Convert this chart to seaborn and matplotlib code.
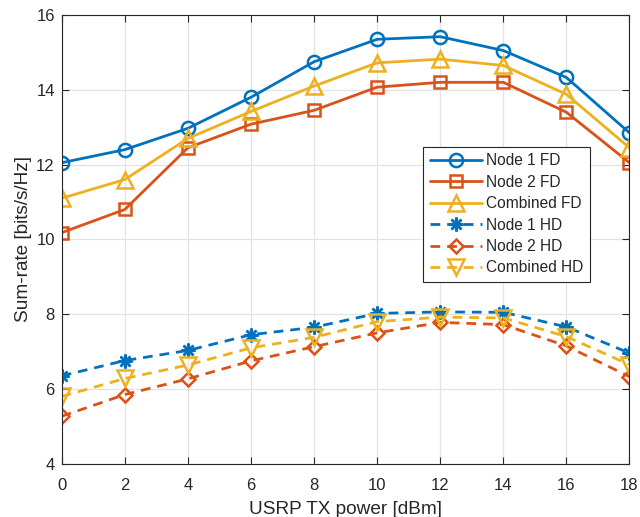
import matplotlib
matplotlib.use("Agg")
import matplotlib.pyplot as plt
import seaborn as sns
import pandas as pd

x = [0, 2, 4, 6, 8, 10, 12, 14, 16, 18]
node1_fd = [12.05, 12.4, 12.97, 13.8, 14.75, 15.35, 15.42, 15.05, 14.33, 12.85]
node2_fd = [10.18, 10.8, 12.45, 13.08, 13.45, 14.07, 14.2, 14.2, 13.4, 12.05]
comb_fd = [11.1, 11.6, 12.7, 13.42, 14.1, 14.72, 14.82, 14.65, 13.88, 12.45]
node1_hd = [6.35, 6.76, 7.03, 7.45, 7.65, 8.02, 8.06, 8.05, 7.66, 6.96]
node2_hd = [5.27, 5.85, 6.27, 6.75, 7.13, 7.5, 7.78, 7.72, 7.15, 6.33]
comb_hd = [5.8, 6.28, 6.64, 7.1, 7.38, 7.8, 7.92, 7.9, 7.4, 6.65]

labels = ["Node 1 FD", "Node 2 FD", "Combined FD", "Node 1 HD", "Node 2 HD", "Combined HD"]
series = [node1_fd, node2_fd, comb_fd, node1_hd, node2_hd, comb_hd]
colors = ["#0072BD", "#D95319", "#EDB120", "#0072BD", "#D95319", "#EDB120"]
markers = ["o", "s", "^", (8, 2, 0), "D", "v"]
styles = ["-", "-", "-", "--", "--", "--"]
msizes = [9.5, 8.5, 11, 10, 7.5, 11]

sns.set_theme(style="whitegrid")
plt.rcParams['font.family'] = ['Liberation Sans', 'DejaVu Sans']

fig = plt.figure(figsize=(6.4, 5.17), dpi=100)
ax = fig.add_axes([0.0965, 0.103, 0.887, 0.868])

for lab, ys, c, m, ls, ms in zip(labels, series, colors, markers, styles, msizes):
    df = pd.DataFrame({"x": x, "y": ys})
    sns.lineplot(data=df, x="x", y="y", ax=ax, color=c, marker=m, linestyle=ls,
                 linewidth=2, markersize=ms, markerfacecolor="none",
                 markeredgecolor=c, markeredgewidth=1.8, label=lab)

for line, ls in zip(ax.get_lines(), styles):
    if ls == "--":
        line.set_dashes([3.5, 2.5])

ax.set_xlim(0, 18)
ax.set_ylim(4, 16)
ax.set_xticks(range(0, 19, 2))
ax.set_yticks(range(4, 17, 2))
ax.set_xlabel("USRP TX power [dBm]", fontsize=13.7, color="#262626", labelpad=6)
ax.set_ylabel("Sum-rate [bits/s/Hz]", fontsize=13.7, color="#262626", labelpad=3)
ax.set_facecolor("white")
ax.grid(True, color="#e3e3e3", linewidth=0.9)
for sp in ax.spines.values():
    sp.set_color("#262626")
    sp.set_linewidth(0.8)
ax.tick_params(direction="in", length=5, width=0.8, colors="#262626", labelsize=12,
               top=True, right=True, bottom=True, left=True)
ax.tick_params(axis="x", pad=10)
ax.tick_params(axis="y", pad=5)

leg = ax.legend(loc="lower left", bbox_to_anchor=(0.637, 0.406), fontsize=11.2,
                frameon=True, fancybox=False, edgecolor="#262626", framealpha=1,
                handlelength=3.4, labelspacing=0.41, borderpad=0.4, handletextpad=0.25,
                borderaxespad=0)
leg.get_frame().set_linewidth(0.8)

fig.savefig("out.png", dpi=100)
